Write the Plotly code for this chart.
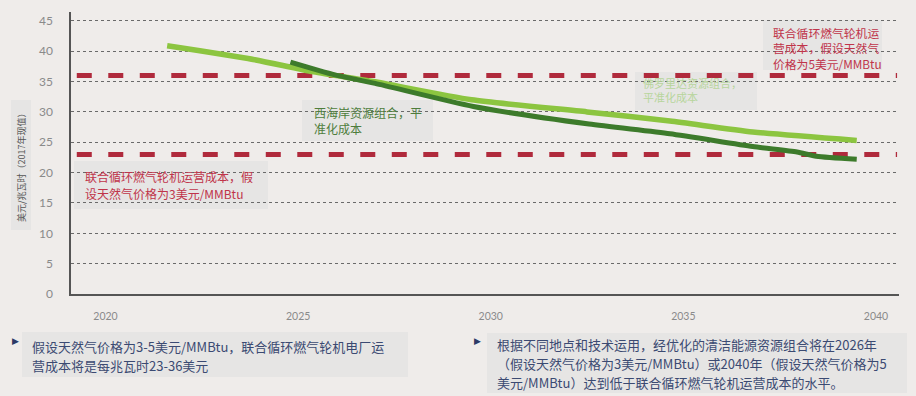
import plotly.graph_objects as go

# ---- data ----
florida_years = [2021.6, 2023.7, 2025.4, 2026.95, 2029.5, 2032.5, 2034.65, 2036.8, 2039.5]
florida_cost = [40.9, 38.8, 36.6, 35.0, 32.0, 30.0, 28.5, 26.7, 25.3]
westcoast_years = [2024.8, 2025.95, 2027.0, 2029.55, 2032.55, 2034.65, 2036.8, 2037.95, 2038.45, 2039.5]
westcoast_cost = [38.2, 36.1, 34.7, 30.9, 28.0, 26.4, 24.3, 23.4, 22.7, 22.2]
ccgt_low = 23   # $3/MMBtu
ccgt_high = 36  # $5/MMBtu
x_ticks = [2020, 2025, 2030, 2035, 2040]
y_ticks = [0, 5, 10, 15, 20, 25, 30, 35, 40, 45]

# ---- geometry ----
W_FIG, H_FIG = 916, 396
L, R, T, B = 71, 899, 12, 294
PW, PH = R - L, B - T
X_RANGE = [2019.104, 2040.597]
Y_RANGE = [0, 46.46]

def px(x):
    return (x - L) / PW

def py(y):
    return (B - y) / PH

BG = "#efecea"
BOX = "#e6e5e4"
RED = "#b02a3c"
RED_TXT = "#c0344a"
NAVY = "#3b4a72"
CJK = "Noto Sans CJK SC"

fig = go.Figure()

for lvl in (ccgt_high, ccgt_low):
    fig.add_trace(go.Scatter(
        x=[X_RANGE[0] + 0.15, X_RANGE[1] - 0.05], y=[lvl, lvl], mode="lines",
        line=dict(color=RED, width=5, dash="15px,16.5px"),
        hoverinfo="skip", showlegend=False))

fig.add_trace(go.Scatter(
    x=florida_years, y=florida_cost, mode="lines",
    line=dict(color="#8cc540", width=5.5, shape="spline", smoothing=0.6),
    showlegend=False))
fig.add_trace(go.Scatter(
    x=westcoast_years, y=westcoast_cost, mode="lines",
    line=dict(color="#3d7b2b", width=5, shape="spline", smoothing=0.6),
    showlegend=False))

boxes = [
    (74, 268, 161, 209),
    (302, 433, 100, 141),
    (635, 757, 72, 110),
    (763, 882, 20, 70),
    (11, 31, 100, 230),
    (22, 408, 332, 377),
    (487, 907, 333, 393),
]
shapes = []
for x0, x1, y0, y1 in boxes:
    shapes.append(dict(type="rect", xref="paper", yref="paper",
                       x0=px(x0), x1=px(x1), y0=py(y1), y1=py(y0),
                       fillcolor=BOX, line=dict(width=0), layer="between"))

texts = [
    (84, 176, "联合循环燃气轮机运营成本，假", 12, RED_TXT),
    (84, 194, "设天然气价格为3美元/MMBtu", 12, RED_TXT),
    (313, 120, "西海岸资源组合，平<br>准化成本", 12, "#4e7d3c"),
    (642, 90, "佛罗里达资源组合，<br>平准化成本", 11, "#b7d59c"),
    (772, 48, "联合循环燃气轮机运<br>营成本，假设天然气<br>价格为5美元/MMBtu", 11.8, RED_TXT),
]
annotations = []
for x, y, t, s, c in texts:
    annotations.append(dict(xref="paper", yref="paper", x=px(x), y=py(y),
                            xanchor="left", yanchor="middle", align="left",
                            text=t, showarrow=False, borderpad=0,
                            font=dict(family=CJK, size=s, color=c)))

# bottom notes, one annotation per line
notes = [
    (31, 346, "假设天然气价格为3-5美元/MMBtu，联合循环燃气轮机电厂运"),
    (31, 365, "营成本将是每兆瓦时23-36美元"),
    (496, 344, "根据不同地点和技术运用，经优化的清洁能源资源组合将在2026年"),
    (496, 363, "（假设天然气价格为3美元/MMBtu）或2040年（假设天然气价格为5"),
    (496, 382, "美元/MMBtu）达到低于联合循环燃气轮机运营成本的水平。"),
]
for x, y, t in notes:
    annotations.append(dict(xref="paper", yref="paper", x=px(x), y=py(y),
                            xanchor="left", yanchor="middle", align="left",
                            text=t, showarrow=False, borderpad=0,
                            font=dict(family=CJK, size=13, color=NAVY)))

for x, y in ((15, 341), (477, 341)):
    annotations.append(dict(xref="paper", yref="paper", x=px(x), y=py(y),
                            xanchor="center", yanchor="middle", text="▶",
                            showarrow=False,
                            font=dict(family="DejaVu Sans", size=9, color="#2c3a66")))
annotations.append(dict(xref="paper", yref="paper", x=px(21), y=py(165),
                        xanchor="center", yanchor="middle", textangle=-90,
                        text="美元/兆瓦时（2017年现值）", showarrow=False,
                        font=dict(family=CJK, size=9, color="#555555")))

fig.update_layout(
    width=W_FIG, height=H_FIG,
    margin=dict(l=L, r=W_FIG - R, t=T, b=H_FIG - B, pad=0),
    paper_bgcolor=BG, plot_bgcolor=BG,
    shapes=shapes, annotations=annotations,
    xaxis=dict(range=X_RANGE, tickvals=x_ticks, ticktext=[str(v) for v in x_ticks],
               showgrid=False, zeroline=False, showline=True,
               linecolor="#555555", linewidth=1.5, ticks="", ticklabelstandoff=12,
               tickfont=dict(family="Lato", size=10.5, color="#8a8a8a")),
    yaxis=dict(range=Y_RANGE, tickvals=y_ticks, ticktext=[str(v) for v in y_ticks],
               showgrid=True, gridcolor="#6a6a6a", gridwidth=1, griddash="dot",
               zeroline=False, showline=True, linecolor="#555555", linewidth=1.5,
               ticks="", ticklabelstandoff=14,
               tickfont=dict(family="Lato", size=12, color="#8a8a8a")),
)

fig.write_html("out.html",
               config={"displayModeBar": False},
               post_script="document.body.style.margin='0';"
                           "document.body.style.background='" + BG + "';")
